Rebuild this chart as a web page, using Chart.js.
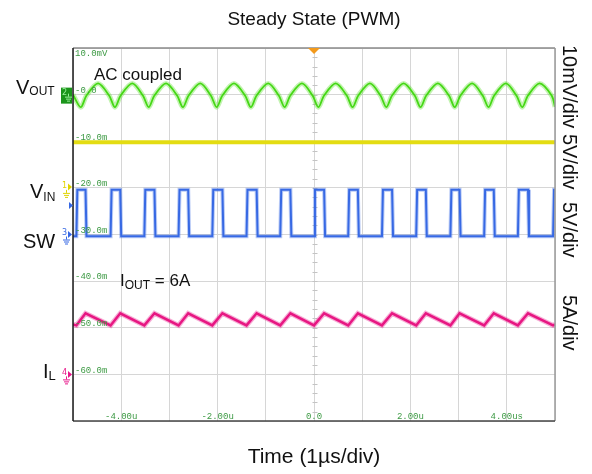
<!DOCTYPE html>
<html>
<head>
<meta charset="utf-8">
<script src="https://cdn.jsdelivr.net/npm/chart.js@4.4.1/dist/chart.umd.min.js"></script>
<style>
    body { margin: 0; background: #fff; }
    #wrap { position: relative; width: 592px; height: 474px; font-family: "Liberation Sans", Arial, sans-serif; color: #111; }
    #wrap canvas { position: absolute; left: 0; top: 0; }
    .t { position: absolute; line-height: 1; white-space: nowrap; }
    .rot { position: absolute; line-height: 1; white-space: nowrap; font-size: 20px; transform-origin: 0 0; transform: rotate(90deg); }
</style>
</head>
<body>
<div id="wrap">
    <canvas id="scope" width="592" height="474"></canvas>

    <div class="t" style="left:73px;width:482px;top:9px;text-align:center;font-size:19px">Steady State (PWM)</div>
    <div class="t" style="left:73px;width:482px;top:445px;text-align:center;font-size:21px">Time (1µs/div)</div>

    <div class="t" style="left:16px;top:77px;font-size:20px">V<span style="font-size:12px;vertical-align:-1px">OUT</span></div>
    <div class="t" style="left:30px;top:181px;font-size:20px">V<span style="font-size:12px;vertical-align:-3px">IN</span></div>
    <div class="t" style="left:23px;top:231px;font-size:20px">SW</div>
    <div class="t" style="left:43px;top:361px;font-size:20px">I<span style="font-size:13px;vertical-align:-2px">L</span></div>

    <div class="t" style="left:94px;top:66px;font-size:17px">AC coupled</div>
    <div class="t" style="left:120px;top:272px;font-size:17px">I<span style="font-size:12px;vertical-align:-3px">OUT</span> = 6A</div>

    <div class="rot" style="left:580px;top:45px">10mV/div</div>
    <div class="rot" style="left:580px;top:134px">5V/div</div>
    <div class="rot" style="left:580px;top:202px">5V/div</div>
    <div class="rot" style="left:580px;top:295px">5A/div</div>
</div>

<script>
// graticule labels (scope shows them inside the grid)
const timeTicksUs = [-4, -2, 0, 2, 4];
const timeTickLabels = ['-4.00u', '-2.00u', '0.0', '2.00u', '4.00us'];
const levelTicks = [10, 0, -10, -20, -30, -40, -50, -60];
const levelTickLabels = ['10.0mV', '-0.0', '-10.0m', '-20.0m', '-30.0m', '-40.0m', '-50.0m', '-60.0m'];

// SW node edges (us)
const swRiseUs = [-4.93, -4.22, -3.52, -2.81, -2.11, -1.40, -0.70, 0.00, 0.71, 1.41, 2.12, 2.83, 3.53, 4.23, 4.96];
const swFallUs = [-4.74, -4.02, -3.31, -2.61, -1.90, -1.19, -0.49, 0.21, 0.91, 1.62, 2.32, 3.02, 3.73, 4.44];
const swLevel = [-30.4, -20.4]; // low, high (screen units)

// VIN is just a flat line
const vinUs = [-5, 5];
const vinLevel = [-10.2, -10.2];

// inductor current: valley at SW rise, peak at SW fall
const ilLevel = [-49.5, -46.9];
const ilEnds = [-49.3, -49.3];

// output ripple (AC coupled)
const voutTroughUs = [-4.84, -4.13, -3.43, -2.72, -2.02, -1.31, -0.61, 0.09, 0.80, 1.50, 2.21, 2.92, 3.62, 4.32];
const voutKneeUpUs = [-4.72, -4.01, -3.31, -2.60, -1.90, -1.19, -0.49, 0.21, 0.92, 1.62, 2.33, 3.04, 3.74, 4.44];
const voutPeakUs = [-4.48, -3.77, -3.07, -2.36, -1.66, -0.95, -0.25, 0.45, 1.16, 1.86, 2.57, 3.28, 3.98, 4.68];
const voutKneeDownUs = [-4.25, -3.55, -2.84, -2.14, -1.43, -0.73, -0.03, 0.68, 1.38, 2.09, 2.80, 3.50, 4.20, 4.93];
const voutLevel = [-2.7, -0.2, 2.4]; // trough, knee, peak
const voutEnds = [0.0, -2.6];

// build point lists
const vinPts = vinUs.map((t, i) => ({ x: t, y: vinLevel[i] }));

const swPts = [{ x: -5, y: swLevel[0] }];
swRiseUs.forEach((r, i) => {
    swPts.push({ x: r, y: swLevel[0] }, { x: r + 0.02, y: swLevel[1] });
    if (swFallUs[i] !== undefined) {
        swPts.push({ x: swFallUs[i], y: swLevel[1] }, { x: swFallUs[i] + 0.02, y: swLevel[0] });
    }
});
swPts.push({ x: 5, y: swLevel[1] });

const ilPts = [{ x: -5, y: ilEnds[0] }];
swRiseUs.forEach((r, i) => {
    ilPts.push({ x: r, y: ilLevel[0] });
    if (swFallUs[i] !== undefined) ilPts.push({ x: swFallUs[i], y: ilLevel[1] });
});
ilPts.push({ x: 5, y: ilEnds[1] });

const voutPts = [{ x: -5, y: voutEnds[0] }];
voutTroughUs.forEach((t, i) => {
    voutPts.push(
        { x: t, y: voutLevel[0] },
        { x: voutKneeUpUs[i], y: voutLevel[1] },
        { x: voutPeakUs[i], y: voutLevel[2] },
        { x: voutKneeDownUs[i], y: voutLevel[1] }
    );
});
voutPts.push({ x: 5, y: voutEnds[1] });

function ground(ctx, x, y, colour) {
    ctx.strokeStyle = colour;
    ctx.lineWidth = 1;
    ctx.beginPath();
    ctx.moveTo(x + 0.5, y); ctx.lineTo(x + 0.5, y + 3);
    ctx.moveTo(x - 3, y + 3.5); ctx.lineTo(x + 4, y + 3.5);
    ctx.moveTo(x - 2, y + 5.5); ctx.lineTo(x + 3, y + 5.5);
    ctx.moveTo(x - 1, y + 7.5); ctx.lineTo(x + 2, y + 7.5);
    ctx.stroke();
}

function arrow(ctx, x, y, colour) {
    ctx.fillStyle = colour;
    ctx.beginPath();
    ctx.moveTo(x, y - 3.5); ctx.lineTo(x + 4, y); ctx.lineTo(x, y + 3.5);
    ctx.closePath();
    ctx.fill();
}

const scopeDecor = {
    id: 'scopeDecor',
    beforeDatasetsDraw(chart) {
        // minor ticks on the centre vertical line
        const { ctx, scales: { x, y } } = chart;
        const cx = Math.round(x.getPixelForValue(0)) + 0.5;
        ctx.save();
        ctx.strokeStyle = '#c4c4c4';
        ctx.lineWidth = 1;
        ctx.beginPath();
        for (let v = -68; v < 10; v += 2) {
            const py = Math.round(y.getPixelForValue(v)) + 0.5;
            ctx.moveTo(cx - 2, py); ctx.lineTo(cx + 3, py);
        }
        ctx.stroke();
        ctx.restore();
    },
    afterDatasetsDraw(chart) {
        const { ctx, chartArea: a, scales: { x, y } } = chart;
        ctx.save();
        ctx.font = '9px "Liberation Mono", monospace';
        ctx.fillStyle = '#3d9a44';
        ctx.textBaseline = 'alphabetic';
        ctx.textAlign = 'left';
        levelTicks.forEach((v, i) => {
            const py = y.getPixelForValue(v);
            ctx.fillText(levelTickLabels[i], a.left + 2, i === 0 ? py + 7.5 : py - 1.7);
        });
        ctx.textAlign = 'center';
        timeTicksUs.forEach((t, i) => {
            ctx.fillText(timeTickLabels[i], x.getPixelForValue(t), a.bottom - 2.5);
        });
        ctx.restore();
    },
    afterDraw(chart) {
        const { ctx, chartArea: a, scales: { x, y } } = chart;
        ctx.save();

        // frame: dark left/bottom, lighter top/right
        ctx.lineWidth = 1.5;
        ctx.strokeStyle = '#8a8a8a';
        ctx.beginPath(); ctx.moveTo(a.left, a.top); ctx.lineTo(a.right, a.top); ctx.stroke();
        ctx.strokeStyle = '#9a9a9a';
        ctx.beginPath(); ctx.moveTo(a.right, a.top); ctx.lineTo(a.right, a.bottom); ctx.stroke();
        ctx.strokeStyle = '#444';
        ctx.beginPath(); ctx.moveTo(a.left, a.bottom); ctx.lineTo(a.right, a.bottom); ctx.stroke();
        ctx.strokeStyle = '#1a1a1a';
        ctx.beginPath(); ctx.moveTo(a.left, a.top); ctx.lineTo(a.left, a.bottom); ctx.stroke();

        // trigger position marker
        const tx = x.getPixelForValue(0);
        ctx.fillStyle = '#f39a1c';
        ctx.beginPath();
        ctx.moveTo(tx - 6, a.top); ctx.lineTo(tx + 6, a.top); ctx.lineTo(tx, a.top + 6);
        ctx.closePath(); ctx.fill();

        // channel 2 (VOUT) box
        const y2 = y.getPixelForValue(0);
        ctx.fillStyle = '#1b951b';
        ctx.fillRect(a.left - 12, y2 - 7, 11, 16);
        ctx.font = '8px "DejaVu Sans", sans-serif';
        ctx.fillStyle = '#9af09a';
        ctx.textBaseline = 'middle';
        ctx.fillText('2', a.left - 11, y2 - 2);
        ground(ctx, a.left - 5, y2 - 1, '#9af09a');

        // channel 1 (VIN)
        const y1 = y.getPixelForValue(-20);
        ctx.fillStyle = '#e0d400';
        ctx.fillText('1', a.left - 11, y1 - 2);
        arrow(ctx, a.left - 5, y1 - 1, '#e0d400');
        ground(ctx, a.left - 7, y1 + 2, '#e0d400');

        // trigger level
        arrow(ctx, a.left - 4, y.getPixelForValue(-23.8), '#3567e3');

        // channel 3 (SW)
        const y3 = y.getPixelForValue(-30);
        ctx.fillStyle = '#3567e3';
        ctx.fillText('3', a.left - 11, y3 - 2);
        arrow(ctx, a.left - 5, y3, '#3567e3');
        ground(ctx, a.left - 7, y3 + 2, '#3567e3');

        // channel 4 (IL)
        const y4 = y.getPixelForValue(-60);
        ctx.fillStyle = '#e8168a';
        ctx.fillText('4', a.left - 11, y4 - 1);
        arrow(ctx, a.left - 5, y4, '#e8168a');
        ground(ctx, a.left - 7, y4 + 2, '#e8168a');

        ctx.restore();
    }
};

const trace = (data, colour, width, extra = {}) => ({
    data: data.map(p => ({ ...p })),
    borderColor: colour,
    borderWidth: width,
    pointRadius: 0,
    fill: false,
    tension: 0,
    ...extra,
});

new Chart(document.getElementById('scope').getContext('2d'), {
    type: 'line',
    data: {
        datasets: [
            trace(vinPts, '#e3dc12', 4),
            trace(voutPts, 'rgba(80,220,30,0.35)', 5, { tension: 0.3 }),
            trace(voutPts, '#3fd611', 1.8, { tension: 0.3 }),
            trace(swPts, 'rgba(60,110,230,0.35)', 4),
            trace(swPts, '#3567e3', 2),
            trace(ilPts, 'rgba(232,22,138,0.35)', 5),
            trace(ilPts, '#e6177f', 2.5),
        ],
    },
    options: {
        responsive: false,
        animation: false,
        events: [],
        layout: { padding: { left: 73, top: 48, right: 37, bottom: 53 } },
        scales: {
            x: {
                type: 'linear',
                min: -5,
                max: 5,
                ticks: { display: false, stepSize: 1 },
                grid: { color: '#d6d6d6', drawTicks: false },
                border: { display: false },
            },
            y: {
                min: -70,
                max: 10,
                ticks: { display: false, stepSize: 10 },
                grid: { color: '#d6d6d6', drawTicks: false },
                border: { display: false },
            },
        },
        plugins: {
            legend: { display: false },
            tooltip: { enabled: false },
            title: { display: false },
        },
    },
    plugins: [scopeDecor],
});
</script>
</body>
</html>
